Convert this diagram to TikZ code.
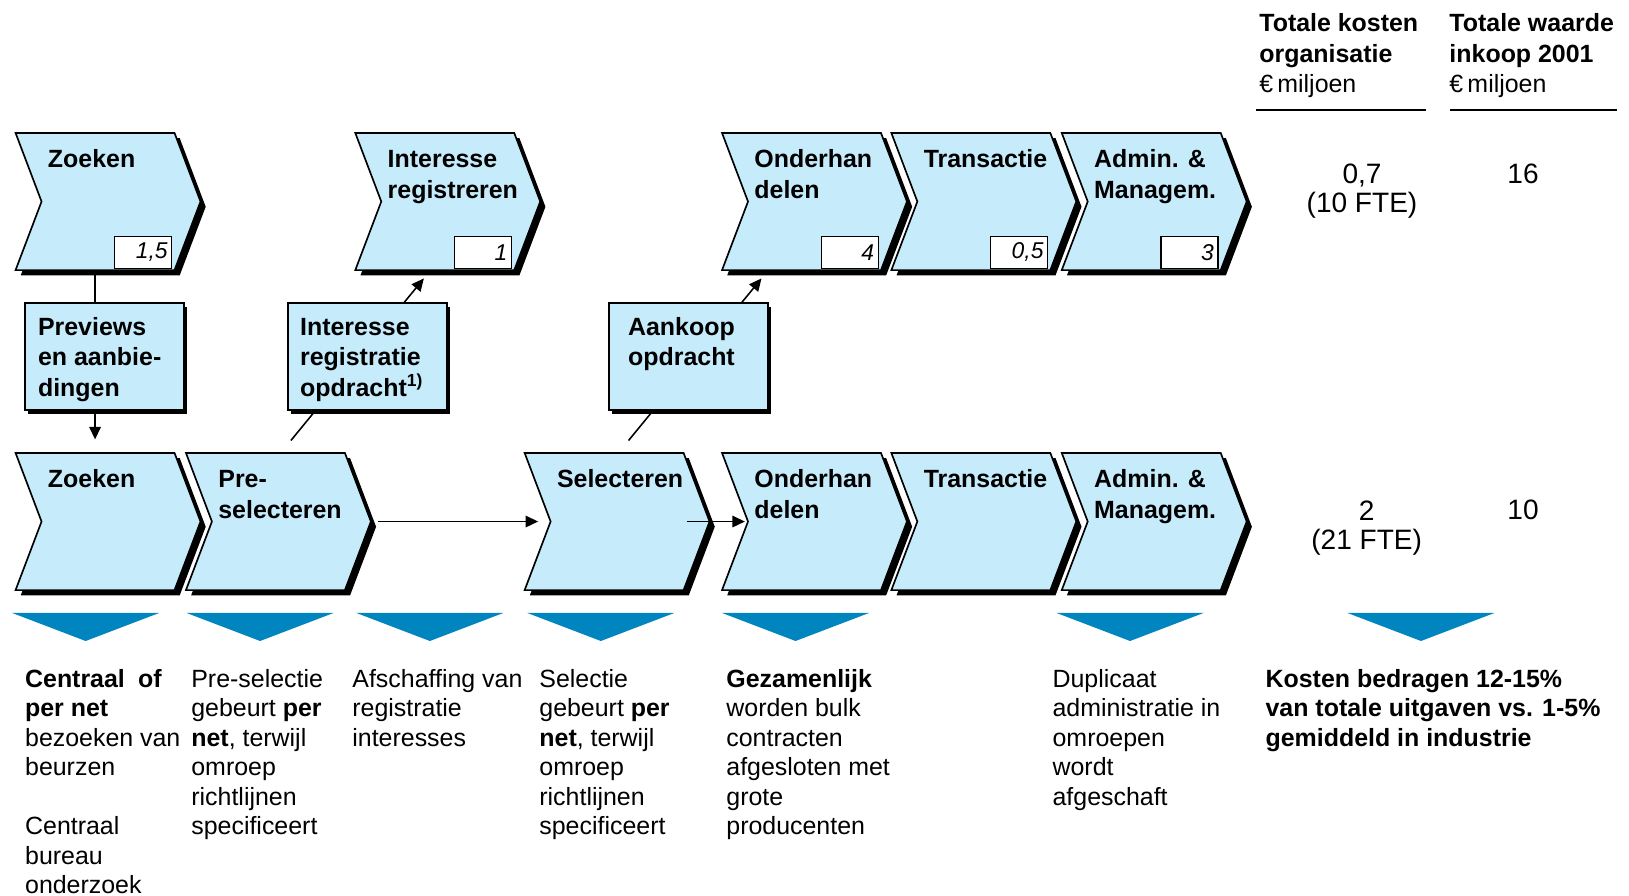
\documentclass[tikz,border=0pt]{standalone}
\usepackage{fontspec}
\setmainfont{Liberation Sans}
\usetikzlibrary{arrows.meta,shadows}
\definecolor{stapblauw}{RGB}{198,236,252}
\definecolor{pijlblauw}{RGB}{0,133,191}
\tikzset{
  stapvorm/.style={fill=stapblauw, draw=black, line width=1.6pt, line join=miter},
  staptekst/.style={anchor=north west, inner sep=0pt, align=left, font=\fontsize{24}{29}\selectfont\bfseries},
  nrvak/.style={draw=black, fill=white, line width=1.2pt, anchor=south east, minimum height=31pt, inner sep=4pt, text width=47pt, align=right, font=\fontsize{22}{26}\selectfont\itshape},
  vak/.style={draw=black, fill=stapblauw, line width=1.6pt, anchor=north west, inner sep=0pt, minimum width=153pt, minimum height=103pt, drop shadow={shadow xshift=3pt, shadow yshift=-4pt, fill=black, opacity=1}},
  vaktekst/.style={anchor=north west, inner sep=0pt, align=left, font=\fontsize{24}{29}\selectfont\bfseries},
  lijn/.style={line width=1.5pt},
  pijl/.style={line width=1.5pt, -{Triangle[length=12pt,width=11pt]}},
  driehoek/.style={fill=pijlblauw},
  kop/.style={anchor=north west, inner sep=0pt, align=left, font=\fontsize{24}{29.5}\selectfont},
  waarde/.style={anchor=north, inner sep=0pt, align=center, font=\fontsize{27}{28}\selectfont},
  uitleg/.style={anchor=north west, inner sep=0pt, align=left, font=\fontsize{24}{28.4}\selectfont}
}
\newcommand{\stap}[4]{%
  \begin{scope}[shift={(#2,#3)}]
    \fill[black] (5,5) -- (158,5) -- (183,71) -- (158,137) -- (5,137) -- (30,71) -- cycle;
    \filldraw[stapvorm] (0,0) -- (153,0) -- (178,66) -- (153,132) -- (0,132) -- (25,66) -- cycle;
    \coordinate (#1-top) at (76.5,0);
    \coordinate (#1-bot) at (76.5,132);
    \coordinate (#1-tip) at (178,66);
    \coordinate (#1-notch) at (25,66);
    \coordinate (#1-hoek) at (153,132);
    \node[staptekst] (#1) at (31,13.2) {\strut #4};
  \end{scope}}
\newcommand{\nummer}[2]{\node[nrvak] (#1-nr) at ([shift={(-2,-1)}]#1-hoek) {#2};}

\begin{document}
\begin{tikzpicture}[x=1pt,y=-1pt]
\useasboundingbox (0,0) rectangle (1568,862);
\stap{zk1}{15}{128}{Zoeken}
\stap{ir}{342}{128}{Interesse\\registreren}
\stap{oh1}{695}{128}{Onderhan\\delen}
\stap{tr1}{858}{128}{Transactie}
\stap{am1}{1022}{128}{Admin. \&\\Managem.}
\nummer{zk1}{1,5}
\nummer{ir}{1}
\nummer{oh1}{4}
\nummer{tr1}{0,5}
\nummer{am1}{3}
\stap{zk2}{15}{436}{Zoeken}
\stap{ps}{179}{436}{Pre-\\selecteren}
\stap{sel}{505}{436}{Selecteren}
\stap{oh2}{695}{436}{Onderhan\\delen}
\stap{tr2}{858}{436}{Transactie}
\stap{am2}{1022}{436}{Admin. \&\\Managem.}
\coordinate (ir-van) at ([shift={(24.5,-12)}]ps-top);
\coordinate (ir-naar) at ([shift={(-10.5,8)}]ir-bot);
\coordinate (oh-van) at ([shift={(23.5,-12)}]sel-top);
\coordinate (oh-naar) at ([shift={(-38.5,8)}]oh1-bot);
\draw[pijl] (ir-van) -- (ir-naar);
\draw[pijl] (oh-van) -- (oh-naar);
\node[vak] (previews) at (23.4,291) {};
\node[vak] (registratie) at (276.7,291) {};
\node[vak] (aankoop) at (585.4,291) {};
\node[vaktekst] (previews-t) at ([shift={(13,11.7)}]previews.north west) {\strut Previews\\en aanbie-\\dingen};
\node[vaktekst] (registratie-t) at ([shift={(12,11.7)}]registratie.north west) {\strut Interesse\\registratie\\opdracht\textsuperscript{1)}};
\node[vaktekst] (aankoop-t) at ([shift={(19,11.7)}]aankoop.north west) {\strut Aankoop\\opdracht};
\draw[lijn] (zk1-bot) -- (zk1-bot |- previews.north);
\draw[pijl, shorten >=13pt] (zk1-bot |- previews.south) -- (zk2-top);
\draw[pijl] ([xshift=7pt]ps-tip) -- ([xshift=-12pt]sel-notch);
\draw[pijl] ([xshift=-22pt]sel-tip) -- ([xshift=-3pt]oh2-notch);
\node[kop] (kosten) at (1212,9.6) {\strut\textbf{Totale kosten}\\\textbf{organisatie}\\€\,miljoen};
\node[kop] (inkoop) at (1395,9.6) {\strut\textbf{Totale waarde}\\\textbf{inkoop 2001}\\€\,miljoen};
\draw[lijn] (1209,106) -- (1373,106);
\draw[lijn] (1396,106) -- (1556,106);
\node[waarde] (kosten-1) at (1311,156.9) {\strut 0,7\\(10 FTE)};
\node[waarde, anchor=base] (inkoop-1) at (1466,176.5) {16};
\node[waarde] (kosten-2) at (1315.5,480.9) {\strut 2\\(21 FTE)};
\node[waarde, anchor=base] (inkoop-2) at (1466,500.5) {10};
\fill[driehoek] (11.7,590) -- ++(141.5,0) -- ++(-70.75,27) -- cycle;
\fill[driehoek] (179.6,590) -- ++(141.5,0) -- ++(-70.75,27) -- cycle;
\fill[driehoek] (343,590) -- ++(141.5,0) -- ++(-70.75,27) -- cycle;
\fill[driehoek] (507.6,590) -- ++(141.5,0) -- ++(-70.75,27) -- cycle;
\fill[driehoek] (695,590) -- ++(141.5,0) -- ++(-70.75,27) -- cycle;
\fill[driehoek] (1017,590) -- ++(141.5,0) -- ++(-70.75,27) -- cycle;
\fill[driehoek] (1297,590) -- ++(141.5,0) -- ++(-70.75,27) -- cycle;
\node[uitleg] (uitleg-zk) at (24,641.2) {\strut\textbf{Centraal\hspace{6pt} of}\\\textbf{per net}\\bezoeken van\\beurzen\\[28.4pt]Centraal\\bureau\\onderzoek};
\node[uitleg] (uitleg-ps) at (184,641.2) {\strut Pre-selectie\\gebeurt \textbf{per}\\\textbf{net}, terwijl\\omroep\\richtlijnen\\specificeert};
\node[uitleg] (uitleg-ir) at (339,641.2) {\strut Afschaffing van\\registratie\\interesses};
\node[uitleg] (uitleg-sel) at (519,641.2) {\strut Selectie\\gebeurt \textbf{per}\\\textbf{net}, terwijl\\omroep\\richtlijnen\\specificeert};
\node[uitleg] (uitleg-oh) at (699,641.2) {\strut\textbf{Gezamenlijk}\\worden bulk\\contracten\\afgesloten met\\grote\\producenten};
\node[uitleg] (uitleg-am) at (1013,641.2) {\strut Duplicaat\\administratie in\\omroepen\\wordt\\afgeschaft};
\node[uitleg, font=\fontsize{24}{28.4}\selectfont\bfseries] (uitleg-kosten) at (1218,641.2) {\strut Kosten bedragen 12-15\%\\van totale uitgaven vs. 1-5\%\\gemiddeld in industrie};
\end{tikzpicture}
\end{document}
